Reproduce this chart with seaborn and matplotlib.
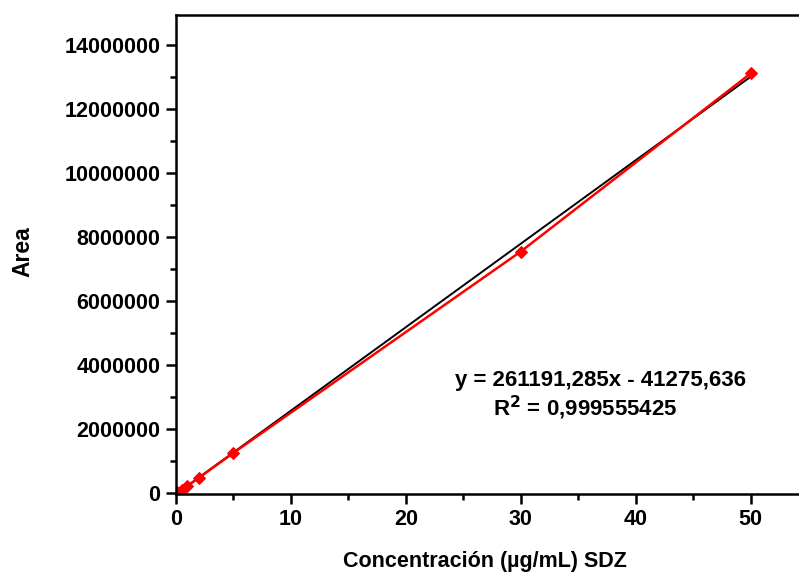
import numpy as np
import pandas as pd
import seaborn as sns
import matplotlib.pyplot as plt
from matplotlib import ticker

# calibration data
conc = [0.1, 0.5, 1, 2, 5, 30, 50]
area = [20000, 100000, 220000, 470000, 1250000, 7550000, 13120000]
slope = 261191.285
intercept = -41275.636
eq_text = 'y = 261191,285x - 41275,636'
r2_text = 'R$^{\\mathbf{2}}$ = 0,999555425'

sns.set_style('ticks', {'axes.edgecolor': 'black', 'text.color': 'black',
                        'xtick.color': 'black', 'ytick.color': 'black',
                        'axes.labelcolor': 'black'})
plt.rcParams['font.family'] = ['Liberation Sans', 'DejaVu Sans']
plt.rcParams['font.weight'] = 'bold'

df = pd.DataFrame({'conc': conc, 'area': area})
fit = pd.DataFrame({'conc': [0, 50]})
fit['area'] = slope * fit['conc'] + intercept

fig = plt.figure(figsize=(7.99, 5.75), dpi=100)
ax = fig.add_axes([0.220, 0.141, 0.780, 0.833])

sns.lineplot(data=fit, x='conc', y='area', color='black', lw=1.4, ax=ax)
sns.lineplot(data=df, x='conc', y='area', color='#ff0000', lw=1.8,
             marker='D', markersize=6, markeredgecolor='#ff0000', ax=ax)

ax.set_xlim(0, 54.2)
ax.set_ylim(-30000, 14950000)
ax.xaxis.set_major_locator(ticker.MultipleLocator(10))
ax.xaxis.set_minor_locator(ticker.MultipleLocator(5))
ax.yaxis.set_major_locator(ticker.MultipleLocator(2000000))
ax.yaxis.set_minor_locator(ticker.MultipleLocator(1000000))
ax.yaxis.set_major_formatter(ticker.FuncFormatter(lambda v, p: f'{int(v)}'))
ax.tick_params(which='major', direction='out', length=7, width=1.8,
               labelsize=15.5, colors='black', pad=4)
ax.tick_params(which='minor', direction='out', length=4, width=1.8, colors='black')
for lab in ax.get_xticklabels() + ax.get_yticklabels():
    lab.set_fontweight('bold')

for s in ['left', 'bottom', 'top']:
    ax.spines[s].set_linewidth(1.8)
    ax.spines[s].set_color('black')
ax.spines['right'].set_visible(False)

ax.set_xlabel('Concentración (µg/mL) SDZ', fontsize=15.5, fontweight='bold')
ax.set_ylabel('Area', fontsize=16.5, fontweight='bold')
ax.xaxis.set_label_coords(0.496, -0.119)
ax.yaxis.set_label_coords(-0.227, 0.505)

fig.text(0.751, 0.339, eq_text, ha='center', va='center',
         fontsize=16, fontweight='bold')
fig.text(0.732, 0.290, r2_text, ha='center', va='center',
         fontsize=16, fontweight='bold')

fig.savefig('out.png', dpi=100)
